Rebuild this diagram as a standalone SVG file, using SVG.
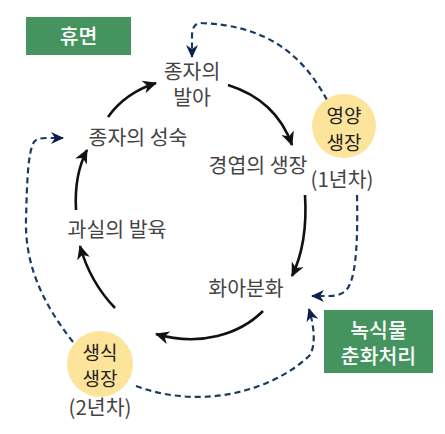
<svg xmlns="http://www.w3.org/2000/svg" width="445" height="434" viewBox="0 0 445 434">
<style>
.lbl{font-family:"Noto Sans CJK KR","Noto Sans",sans-serif;font-size:20.5px;fill:#444;text-anchor:middle}
.ctx{font-family:"Noto Sans CJK KR","Noto Sans",sans-serif;font-size:19px;fill:#222;text-anchor:middle}
.btx{font-family:"Noto Sans CJK KR","Noto Sans",sans-serif;font-size:20.5px;fill:#fff;text-anchor:middle;font-weight:500}
.box{fill:#45935f}
.circ{fill:#fde49b}
.solid{fill:none;stroke:#111;stroke-width:2.6;marker-end:url(#ah)}
.dash{fill:none;stroke:#183a63;stroke-width:2.2;stroke-dasharray:6 4;marker-end:url(#dh)}
</style>
<defs>
<marker id="ah" viewBox="-14 -7 16 14" markerWidth="16" markerHeight="14" refX="0" refY="0" orient="auto" markerUnits="userSpaceOnUse">
<path d="M1,0 L-13,-6.5 L-9,0 L-13,6.5 Z" fill="#111"/>
</marker>
<marker id="dh" viewBox="-14 -7 16 14" markerWidth="16" markerHeight="14" refX="0" refY="0" orient="auto" markerUnits="userSpaceOnUse">
<path d="M1,0 L-12,-6 L-8,0 L-12,6 Z" fill="#0d1f4f"/>
</marker>
</defs>
<g id="connectors">
<path class="solid" d="M108,117 Q125,93 156,83"/>
<path class="solid" d="M228,85 Q276,100 292,145"/>
<path class="solid" d="M305,195 Q308,243 292,276"/>
<path class="solid" d="M263,311 C240,334 200,347 156,334"/>
<path class="solid" d="M115,308 Q90,282 80,246"/>
<path class="solid" d="M76,210 Q74,175 87,150"/>
<path class="dash" d="M327,100 C300,50 262,25 200,23 Q192,24 192,36 L192,57"/>
<path class="dash" d="M73,342 C40,300 25,262 26,220 C27,180 28,152 34,142 Q37,138 46,138 L63,138"/>
<path class="dash" d="M136,386 C200,410 272,392 310,355 Q318,340 309,309"/>
<path class="dash" d="M357,195 C358,240 356,270 350,284 Q345,296 330,296 L312,296"/>
</g>
<g id="dormancy">
<rect class="box" x="26" y="17" width="105" height="38"/>
<text class="btx" x="78.5" y="43.5">휴면</text>
</g>
<g id="germination">
<text class="lbl" x="192" y="79">종자의</text>
<text class="lbl" x="192" y="105">발아</text>
</g>
<g id="leaf-growth">
<text class="lbl" x="258" y="173">경엽의 생장</text>
</g>
<g id="vegetative">
<circle class="circ" cx="344" cy="126" r="32"/>
<text class="ctx" x="344" y="123">영양</text>
<text class="ctx" x="344" y="150">생장</text>
<text class="lbl" x="342" y="187">(1년차)</text>
</g>
<g id="flower-diff">
<text class="lbl" x="246" y="296">화아분화</text>
</g>
<g id="reproductive">
<circle class="circ" cx="100" cy="364" r="33"/>
<text class="ctx" x="100" y="360">생식</text>
<text class="ctx" x="100" y="386">생장</text>
<text class="lbl" x="100" y="415">(2년차)</text>
</g>
<g id="fruit">
<text class="lbl" x="117" y="237">과실의 발육</text>
</g>
<g id="seed-maturation">
<text class="lbl" x="138" y="145">종자의 성숙</text>
</g>
<g id="vernalization">
<rect class="box" x="324" y="310" width="109" height="63"/>
<text class="btx" x="378.5" y="338">녹식물</text>
<text class="btx" x="378.5" y="364">춘화처리</text>
</g>
</svg>
